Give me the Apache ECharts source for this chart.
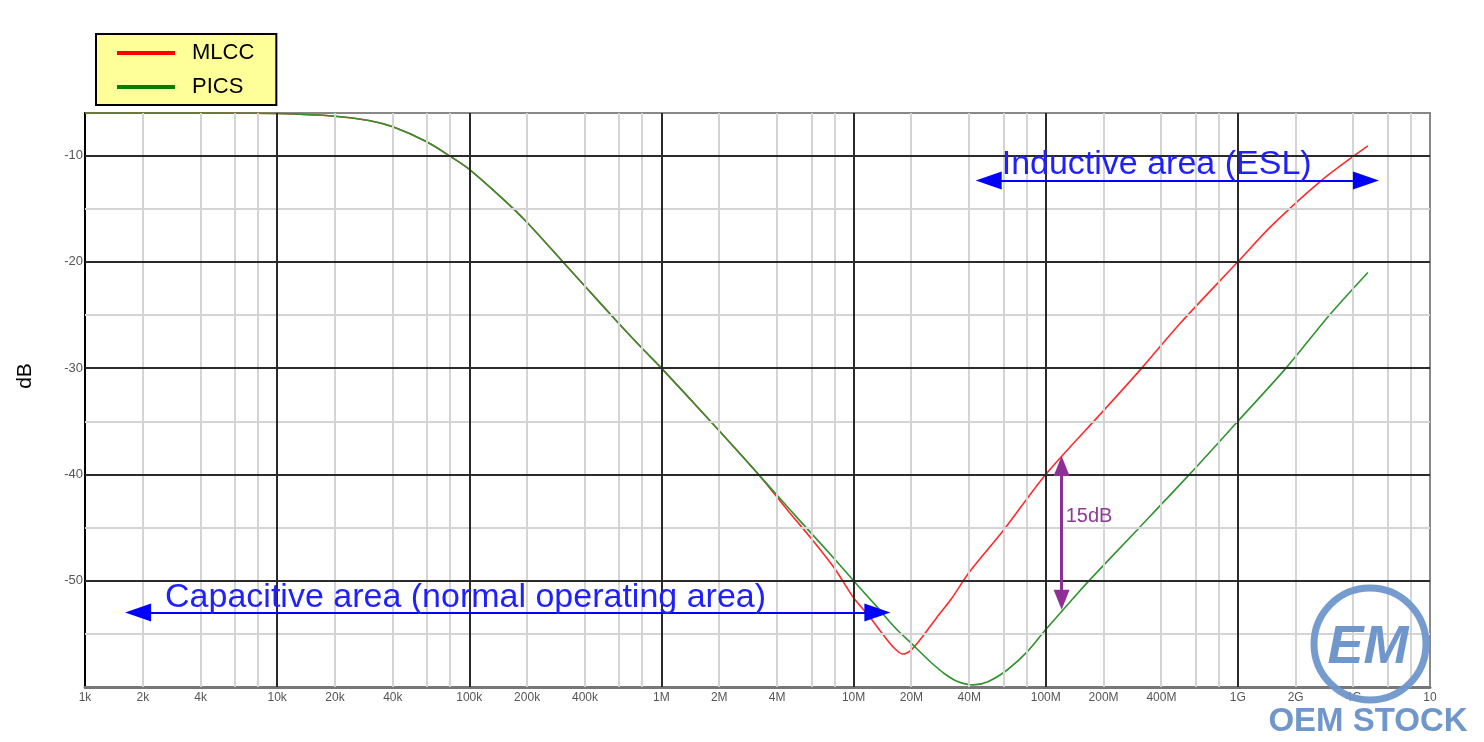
<!DOCTYPE html>
<html lang="en">
<head>
<meta charset="UTF-8">
<title>MLCC vs PICS insertion loss</title>
<script src="https://cdn.jsdelivr.net/npm/echarts@6/dist/echarts.min.js"></script>
<style>
    html, body { margin: 0; padding: 0; background: #fff; }
    #chart { width: 1484px; height: 742px; }
</style>
</head>
<body>
<div id="chart"></div>
<script>
// both curves coincide up to ~3 MHz
var commonFreq = [1e3, 2e3, 5e3, 1e4, 2e4, 3e4, 4e4, 6e4, 8e4, 1e5, 1.5e5, 2e5, 3e5, 4e5, 6e5, 8e5, 1e6, 1.8e6, 3.2e6];
var commonDb   = [-6.0, -6.0, -6.0, -6.05, -6.3, -6.7, -7.3, -8.7, -10.1, -11.3, -14.1, -16.3, -19.8, -22.3, -25.8, -28.2, -30.0, -35.0, -40.0];

var mlccFreq = [4.5e6, 6e6, 8e6, 1e7, 1.2e7, 1.4e7, 1.6e7, 1.8e7, 2e7, 2.3e7, 2.7e7, 3.2e7, 4e7, 6e7, 1e8, 2e8, 3.16e8, 5e8, 1e9, 1.5e9, 2.7e9, 4.75e9];
var mlccDb   = [-43.3, -46.0, -48.9, -51.6, -53.3, -54.9, -56.2, -56.9, -56.5, -55.2, -53.5, -51.8, -49.2, -45.3, -40.0, -34.0, -30.0, -25.8, -20.0, -16.6, -12.4, -9.1];

var picsFreq = [4.5e6, 6e6, 8e6, 1e7, 1.3e7, 1.66e7, 2e7, 2.5e7, 3e7, 3.5e7, 4.2e7, 5e7, 6.3e7, 8e7, 1e8, 1.4e8, 1.7e8, 3e8, 5.6e8, 1e9, 1.78e9, 3e9, 4.75e9];
var picsDb   = [-43.0, -45.5, -48.0, -50.0, -52.3, -54.5, -55.9, -57.6, -58.8, -59.5, -59.8, -59.5, -58.4, -56.7, -54.6, -51.6, -49.9, -45.2, -40.0, -35.0, -30.0, -25.0, -21.0];

// x axis labels
var xLabelFreq = [1e3, 2e3, 4e3, 1e4, 2e4, 4e4, 1e5, 2e5, 4e5, 1e6, 2e6, 4e6, 1e7, 2e7, 4e7, 1e8, 2e8, 4e8, 1e9, 2e9, 4e9, 1e10];
var xLabelText = ['1k', '2k', '4k', '10k', '20k', '40k', '100k', '200k', '400k', '1M', '2M', '4M', '10M', '20M', '40M', '100M', '200M', '400M', '1G', '2G', '4G', '10'];

// grid lines
var majorDb = [-50, -40, -30, -20, -10];
var minorDb = [-55, -45, -35, -25, -15];
var minorMult = [2, 4, 6, 8];

// annotations (freq in Hz, level in dB) - arrow head centres
var capArrowFreq = [1.89e3, 1.33e7], capArrowDb = -53.0;
var indArrowFreq = [5.05e7, 4.64e9], indArrowDb = -12.35;
var gapFreq = 1.21e8, gapDb = [-39.2, -51.8];

function lg(f) { return Math.log10(f); }
function toPoints(fr, db) {
    return fr.map(function (f, i) { return [lg(f), db[i]]; });
}

var majorX = [], minorX = [];
for (var d = 3; d < 10; d++) {
    if (d > 3) majorX.push(d);
    minorMult.forEach(function (k) { minorX.push(lg(k * Math.pow(10, d))); });
}

var labelMap = {};
xLabelFreq.forEach(function (f, i) { labelMap[lg(f).toFixed(4)] = xLabelText[i]; });

var chart = echarts.init(document.getElementById('chart'));

var option = {
    animation: false,
    grid: {
        left: 85, right: 54, top: 113, bottom: 55,
        show: true, borderColor: '#888', borderWidth: 2
    },
    legend: {
        orient: 'vertical',
        left: 96, top: 34,
        padding: [8, 22, 7, 21],
        itemGap: 12,
        backgroundColor: '#ffff99',
        borderColor: '#000', borderWidth: 2,
        icon: 'rect', itemWidth: 58, itemHeight: 4,
        textStyle: { fontSize: 22, color: '#000', fontFamily: 'Liberation Sans', padding: [0, 0, 0, 12] },
        data: [
            { name: 'MLCC', itemStyle: { color: '#ff0000' } },
            { name: 'PICS', itemStyle: { color: '#008000' } }
        ]
    },
    xAxis: {
        type: 'value', min: 3, max: 10, interval: 1,
        axisLine: { lineStyle: { color: '#777', width: 3 } },
        axisTick: { show: false },
        splitLine: { show: false },
        axisLabel: {
            customValues: xLabelFreq.map(lg),
            formatter: function (v) { return labelMap[v.toFixed(4)] || ''; },
            fontSize: 12, color: '#555', margin: 5, fontFamily: 'Liberation Sans'
        }
    },
    yAxis: {
        type: 'value', min: -60, max: -6, interval: 10,
        axisLine: { show: true, lineStyle: { color: '#000', width: 2 } },
        axisTick: { show: false },
        splitLine: { show: false },
        axisLabel: {
            showMaxLabel: false,
            formatter: function (v) { return (v % 10 === 0 && v !== -60) ? String(v) : ''; },
            fontSize: 13, color: '#555', margin: 2, fontFamily: 'Liberation Sans'
        }
    },
    series: [
        {
            name: '_minor', type: 'line', data: [], z: 1, silent: true,
            markLine: {
                silent: true, symbol: ['none', 'none'], label: { show: false },
                lineStyle: { color: '#d4d4d4', width: 2, type: 'solid' },
                emphasis: { disabled: true },
                data: minorX.map(function (v) { return { xAxis: v }; })
                    .concat(minorDb.map(function (v) { return { yAxis: v }; }))
            }
        },
        {
            name: '_major', type: 'line', data: [], z: 2, silent: true,
            markLine: {
                silent: true, symbol: ['none', 'none'], label: { show: false },
                lineStyle: { color: '#2a2a2a', width: 2, type: 'solid' },
                emphasis: { disabled: true },
                data: majorX.map(function (v) { return { xAxis: v }; })
                    .concat(majorDb.map(function (v) { return { yAxis: v }; }))
            }
        },
        {
            name: 'MLCC', type: 'line', z: 3,
            data: toPoints(commonFreq.concat(mlccFreq), commonDb.concat(mlccDb)),
            showSymbol: false, smooth: 0.3,
            lineStyle: { color: '#ff2b2b', width: 1.6 },
            itemStyle: { color: '#ff0000' }
        },
        {
            name: 'PICS', type: 'line', z: 3,
            data: toPoints(commonFreq.concat(picsFreq), commonDb.concat(picsDb)),
            showSymbol: false, smooth: 0.3,
            lineStyle: { color: '#2f932f', width: 1.6 },
            itemStyle: { color: '#008000' }
        },
        {
            name: '_annot', type: 'line', data: [], z: 4, silent: true,
            markLine: {
                silent: true, label: { show: false },
                emphasis: { disabled: true },
                data: [
                    [
                        { coord: [lg(capArrowFreq[0]), capArrowDb], symbol: 'triangle', symbolSize: [18, 26], lineStyle: { color: '#0000ff', width: 2, type: 'solid' } },
                        { coord: [lg(capArrowFreq[1]), capArrowDb], symbol: 'triangle', symbolSize: [18, 26] }
                    ],
                    [
                        { coord: [lg(indArrowFreq[0]), indArrowDb], symbol: 'triangle', symbolSize: [18, 26], lineStyle: { color: '#0000ff', width: 2, type: 'solid' } },
                        { coord: [lg(indArrowFreq[1]), indArrowDb], symbol: 'triangle', symbolSize: [18, 26] }
                    ],
                    [
                        { coord: [lg(gapFreq), gapDb[0]], symbol: 'triangle', symbolSize: [16, 20], lineStyle: { color: '#8e2f96', width: 3, type: 'solid' } },
                        { coord: [lg(gapFreq), gapDb[1]], symbol: 'triangle', symbolSize: [16, 20] }
                    ]
                ]
            }
        }
    ]
};

chart.setOption(option);

// texts placed from data coordinates
function px(f, db) { return chart.convertToPixel({ gridIndex: 0 }, [lg(f), db]); }
var capPos = px(2.61e3, -52.7);
var indPos = px(5.9e7, -12.0);
var gapPos = px(1.27e8, -44.0);

chart.setOption({
    graphic: [
        {
            type: 'text', x: 25, y: 376, rotation: Math.PI / 2,
            style: { text: 'dB', fontSize: 21, fill: '#000', fontFamily: 'Liberation Sans', align: 'center', verticalAlign: 'middle' }
        },
        {
            type: 'text', x: capPos[0], y: capPos[1] - 12, z: 10,
            style: { text: 'Capacitive area (normal operating area)', fontSize: 34, fill: '#1f1fff', fontFamily: 'Liberation Sans', align: 'left', verticalAlign: 'middle' }
        },
        {
            type: 'text', x: indPos[0], y: indPos[1] - 12, z: 10,
            style: { text: 'Inductive area (ESL)', fontSize: 34, fill: '#1f1fff', fontFamily: 'Liberation Sans', align: 'left', verticalAlign: 'middle' }
        },
        {
            type: 'text', x: gapPos[0], y: gapPos[1], z: 10,
            style: { text: '15dB', fontSize: 20, fill: '#8e3a96', fontFamily: 'Liberation Sans', align: 'left', verticalAlign: 'middle' }
        },
        // watermark
        {
            type: 'circle', shape: { cx: 1370, cy: 644, r: 56 }, z: 20,
            style: { fill: 'none', stroke: '#6f97cc', lineWidth: 7, opacity: 0.95 }
        },
        {
            type: 'text', x: 1368, y: 648, z: 20,
            style: { text: 'EM', fontSize: 54, fontWeight: 'bold', fontStyle: 'italic', fill: '#6f97cc', fontFamily: 'Liberation Sans', align: 'center', verticalAlign: 'middle' }
        },
        {
            type: 'text', x: 1368, y: 722, z: 20,
            style: { text: 'OEM STOCK', fontSize: 33, fontWeight: 'bold', fill: '#6f97cc', fontFamily: 'Liberation Sans', align: 'center', verticalAlign: 'middle' }
        }
    ]
});
</script>
</body>
</html>
